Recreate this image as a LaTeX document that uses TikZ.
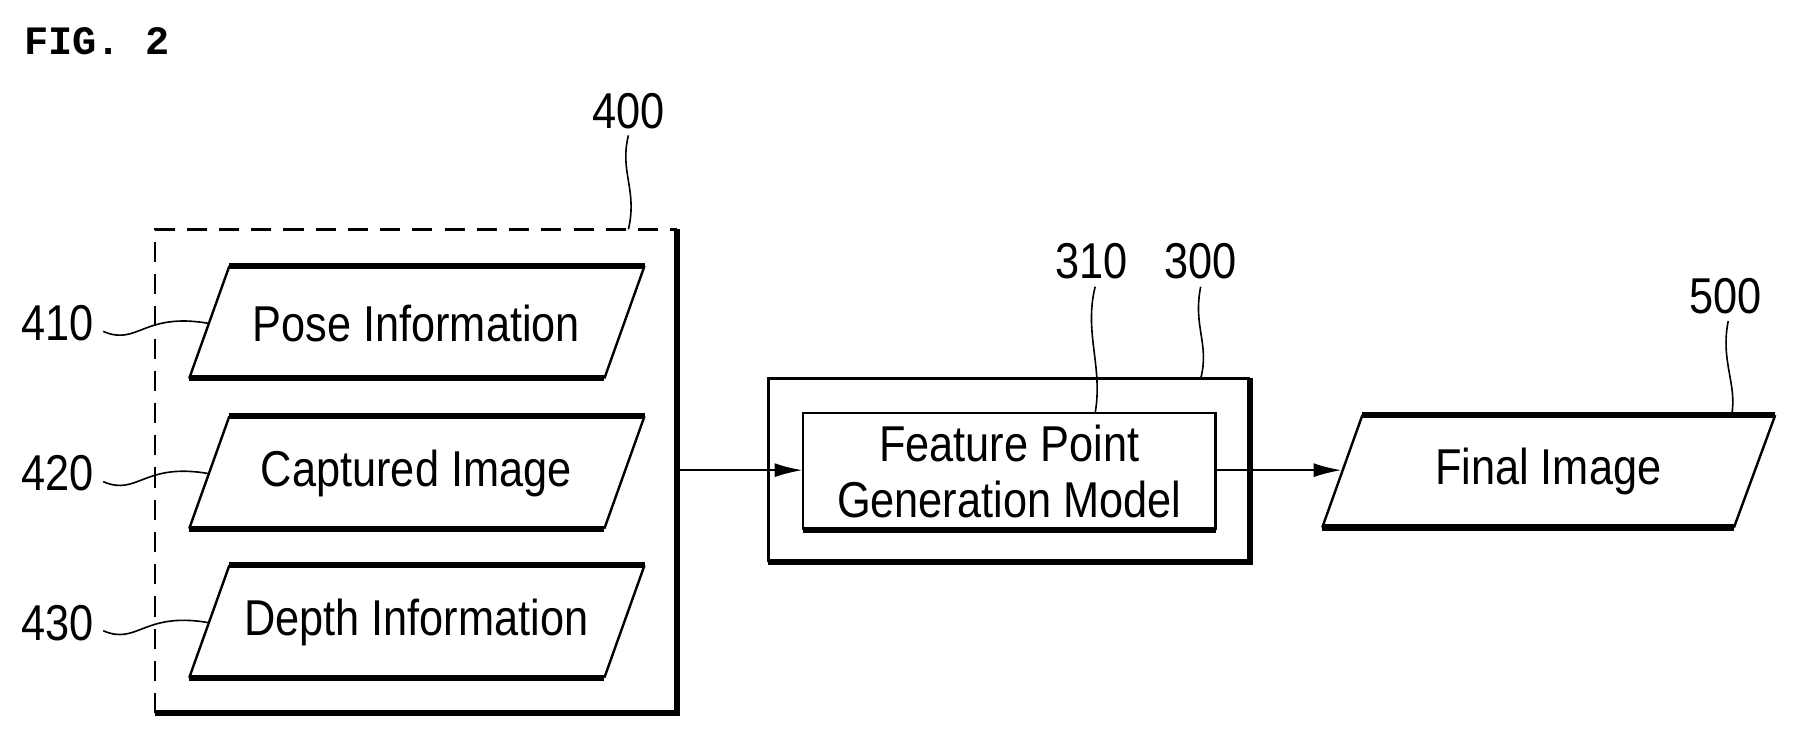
\documentclass[tikz,border=0pt]{standalone}
\usepackage{fontspec}
\setmainfont{Liberation Sans}[FakeStretch=0.86]
\setmonofont{Liberation Mono}
\usetikzlibrary{arrows.meta}
\begin{document}
\begin{tikzpicture}[x=0.02cm,y=-0.02cm,
  thin/.style={line width=1.2pt},
  thick/.style={line width=3pt},
  txt/.style={font=\fontsize{25}{28}\selectfont},
  num/.style={font=\fontsize{25}{28}\selectfont},
  lead/.style={line width=0.8pt},
  arr/.style={line width=1.2pt,-{Latex[length=14pt,width=7pt]}}]
\useasboundingbox (0,0) rectangle (1567,641);
\node[anchor=west,font=\ttfamily\bfseries\fontsize{20}{24}\selectfont] (fig) at (15,36) {FIG. 2};
% box 400
\draw[thin,dash pattern=on 10pt off 6pt] (135,622) -- (135,200) -- (590,200);
\draw[thick] (590,200) -- (590,622) -- (135,622);
\node[num] (n400) at (548,97) {400};
\draw[lead] (548,118) .. controls (540,150) and (556,165) .. (548,200);
% parallelograms
\foreach \y/\t/\n in {232/Pose Information/410, 363/Captured Image/420, 493/Depth Information/430}{
  \draw[thin] (200,\y) -- (165,\y+98) (562,\y) -- (527,\y+98);
  \draw[thick] (200,\y) -- (562,\y) (165,\y+98) -- (527,\y+98);
  \node[txt] at (363,\y+50) {\t};
  \node[num] at (50,\y+50) {\n};
  \draw[lead] (90,\y+57) .. controls (120,\y+70) and (125,\y+40) .. (182,\y+50);
}
\coordinate (out400) at (592,410);
% box 300
\draw[thin] (670,490) -- (670,330) -- (1090,330);
\draw[thick] (1090,330) -- (1090,490) -- (670,490);
\draw[thin] (700,462) -- (700,360) -- (1060,360) -- (1060,462);
\draw[thick] (700,462) -- (1060,462);
\node[txt,align=center,font=\fontsize{25}{28}\selectfont] (m310) at (880,411) {Feature Point\\Generation Model};
\coordinate (in310) at (700,410);
\coordinate (out310) at (1060,410);
\node[num] (n310) at (952,228) {310};
\node[num] (n300) at (1047,228) {300};
\draw[lead] (955,250) .. controls (945,290) and (962,320) .. (955,360);
\draw[lead] (1047,250) .. controls (1040,285) and (1055,300) .. (1047,330);
% final
\draw[thin] (1188,362) -- (1153,460) (1548,362) -- (1512,460);
\draw[thick] (1188,362) -- (1548,362) (1153,460) -- (1512,460);
\node[txt] (fin) at (1350,411) {Final Image};
\coordinate (in500) at (1170,410);
\node[num] (n500) at (1505,258) {500};
\draw[lead] (1507,280) .. controls (1500,315) and (1515,335) .. (1510,362);
\draw[arr] (out400) -- (in310);
\draw[arr] (out310) -- (in500);
\end{tikzpicture}
\end{document}
